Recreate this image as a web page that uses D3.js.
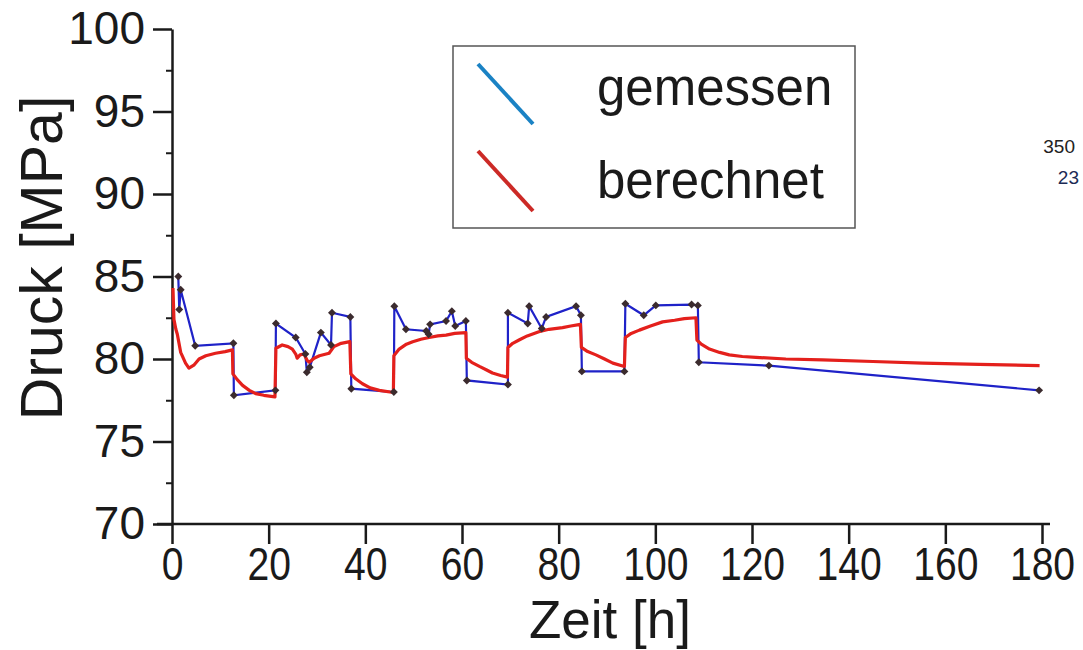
<!DOCTYPE html>
<html>
<head>
<meta charset="utf-8">
<script src="https://cdn.jsdelivr.net/npm/d3@7"></script>
<style>
  body { margin: 0; background: #fff; }
  svg { display: block; font-family: "Liberation Sans", Arial, sans-serif; }
</style>
</head>
<body>
<div id="chart"></div>
<script>
"use strict";

// gemessen (blue, with markers)
const gemessenZeit = [1.3, 1.5, 1.8, 4.8, 12.7, 12.8, 21.4, 21.5, 25.6, 27.6, 27.9, 28.5, 30.8, 32.9, 33.1,
  36.9, 37.1, 45.9, 46.0, 48.4, 52.6, 53.1, 53.4, 56.7, 57.9, 58.6, 60.8, 61.0, 69.5, 69.5, 73.6, 73.9,
  76.5, 77.4, 83.6, 84.6, 84.8, 93.6, 93.8, 97.6, 100.1, 107.5, 108.8, 109.0, 123.5, 179.4];
const gemessenDruck = [85.0, 83.0, 84.2, 80.8, 80.95, 77.8, 78.1, 82.15, 81.3, 80.3, 79.2, 79.5, 81.6, 80.85, 82.8,
  82.55, 78.2, 78.0, 83.2, 81.8, 81.7, 81.5, 82.1, 82.3, 82.9, 82.0, 82.3, 78.7, 78.45, 82.8, 82.15, 83.2,
  81.85, 82.55, 83.2, 82.65, 79.25, 79.25, 83.35, 82.65, 83.25, 83.3, 83.25, 79.8, 79.6, 78.1];

// berechnet (red)
const berechnetZeit = [0.2, 0.4, 0.8, 1.1, 1.8, 2.8, 3.5, 4.6, 5.6, 7.0, 9.0, 11.0, 12.5, 12.6, 13.5, 14.6, 16.0,
  17.3, 19.0, 21.3, 21.5, 22.8, 24.0, 24.9, 25.6, 25.9, 26.5, 27.3, 28.0, 28.4, 29.4, 30.5, 32.5, 33.5, 35.0,
  36.8, 37.0, 38.0, 39.4, 41.0, 42.9, 45.8, 45.9, 47.0, 48.5, 49.8, 51.5, 53.2, 55.0, 56.7, 58.5, 60.8, 60.9,
  62.0, 63.6, 65.0, 66.3, 68.0, 69.4, 69.5, 70.5, 71.8, 73.5, 75.9, 78.0, 80.8, 82.5, 84.5, 84.7, 86.0, 87.7,
  89.5, 91.2, 93.6, 93.8, 95.0, 96.7, 99.0, 101.5, 104.0, 106.0, 108.4, 108.6, 109.5, 111.2, 113.3, 115.3,
  118.0, 120.8, 127.0, 134.6, 145.0, 155.3, 167.0, 179.5];
const berechnetDruck = [84.3, 82.4, 81.8, 81.5, 80.4, 79.75, 79.45, 79.65, 80.0, 80.2, 80.35, 80.45, 80.55, 79.1,
  78.75, 78.4, 78.1, 77.9, 77.8, 77.7, 80.65, 80.85, 80.75, 80.6, 80.3, 80.05, 80.25, 80.3, 79.9, 79.8, 80.05,
  80.2, 80.35, 80.75, 80.95, 81.05, 79.1, 78.8, 78.5, 78.25, 78.1, 77.97, 80.2, 80.6, 80.9, 81.05, 81.2, 81.3,
  81.4, 81.45, 81.55, 81.6, 80.05, 79.8, 79.55, 79.35, 79.15, 79.0, 78.9, 80.7, 80.95, 81.15, 81.4, 81.65,
  81.8, 81.9, 82.0, 82.1, 80.7, 80.45, 80.25, 80.0, 79.75, 79.55, 81.3, 81.55, 81.75, 82.0, 82.25, 82.35,
  82.45, 82.5, 81.15, 80.9, 80.6, 80.4, 80.25, 80.15, 80.1, 80.0, 79.95, 79.85, 79.75, 79.68, 79.6];

const xTicks = [0, 20, 40, 60, 80, 100, 120, 140, 160, 180];
const yTicks = [70, 75, 80, 85, 90, 95, 100];
const yMinorTicks = [72.5, 77.5, 82.5, 87.5, 92.5, 97.5];
const legendLabels = ['gemessen', 'berechnet'];
const legendColors = ['#1a82c4', '#cc2a26'];
const sideLabels = ['350', '23'];

const width = 1083;
const height = 650;

const svg = d3.select('#chart')
  .append('svg')
  .attr('width', width)
  .attr('height', height);

const x = d3.scaleLinear().domain([0, 180]).range([172, 1042]);
const y = d3.scaleLinear().domain([70, 100]).range([524, 29]);

const axisColor = '#1a1a1a';

// y axis
const yAxis = svg.append('g')
  .attr('transform', `translate(${x(0)},0)`)
  .call(d3.axisLeft(y).tickValues(yTicks).tickSize(19).tickSizeOuter(0).tickPadding(8));
yAxis.select('.domain').attr('stroke', axisColor).attr('stroke-width', 2.5);
yAxis.selectAll('.tick line').attr('stroke', axisColor).attr('stroke-width', 2.5);
yAxis.selectAll('.tick text')
  .attr('fill', '#1a1a1a')
  .style('font-size', '46px');

const yMinor = svg.append('g')
  .attr('transform', `translate(${x(0)},0)`)
  .call(d3.axisLeft(y).tickValues(yMinorTicks).tickSize(6).tickSizeOuter(0).tickFormat(''));
yMinor.select('.domain').remove();
yMinor.selectAll('.tick line').attr('stroke', axisColor).attr('stroke-width', 2);

// x axis
const xAxis = svg.append('g')
  .attr('transform', `translate(0,${y(70)})`)
  .call(d3.axisBottom(x).tickValues(xTicks).tickSize(20).tickSizeOuter(0).tickPadding(3));
xAxis.select('.domain').remove();
xAxis.selectAll('.tick line').attr('stroke', axisColor).attr('stroke-width', 2.5);
xAxis.selectAll('.tick text')
  .attr('fill', '#1a1a1a')
  .attr('transform', 'scale(0.85,1)')
  .style('font-size', '46px');

svg.append('line')
  .attr('x1', x.range()[0] - 15)
  .attr('x2', x.range()[1] + 8)
  .attr('y1', y(70))
  .attr('y2', y(70))
  .attr('stroke', axisColor)
  .attr('stroke-width', 2.5);

// axis titles
svg.append('text')
  .attr('x', 610)
  .attr('y', 638)
  .attr('text-anchor', 'middle')
  .attr('fill', '#1a1a1a')
  .style('font-size', '53px')
  .text('Zeit [h]');

svg.append('text')
  .attr('transform', 'translate(62,258) rotate(-90)')
  .attr('text-anchor', 'middle')
  .attr('fill', '#1a1a1a')
  .style('font-size', '59px')
  .text('Druck [MPa]');

// lines
const berechnet = berechnetZeit.map((t, i) => ({ t: t, p: berechnetDruck[i] }));
const gemessen = gemessenZeit.map((t, i) => ({ t: t, p: gemessenDruck[i] }));

const line = d3.line()
  .x(d => x(d.t))
  .y(d => y(d.p));

svg.append('path')
  .datum(gemessen)
  .attr('d', line)
  .attr('fill', 'none')
  .attr('stroke', '#1f22c8')
  .attr('stroke-width', 2.2);

svg.append('path')
  .datum(berechnet)
  .attr('d', line)
  .attr('fill', 'none')
  .attr('stroke', '#e4201c')
  .attr('stroke-width', 3.2)
  .attr('stroke-linejoin', 'round');

svg.append('g')
  .selectAll('path')
  .data(gemessen)
  .enter().append('path')
    .attr('d', d3.symbol().type(d3.symbolDiamond2).size(40))
    .attr('transform', d => `translate(${x(d.t)},${y(d.p)})`)
    .attr('fill', '#3b2b2e');

// legend
const legend = svg.append('g');
legend.append('rect')
  .attr('x', 453)
  .attr('y', 46)
  .attr('width', 402)
  .attr('height', 182)
  .attr('fill', '#fff')
  .attr('stroke', '#555')
  .attr('stroke-width', 1.5);

legendLabels.forEach((label, i) => {
  const top = 64 + i * 87;
  legend.append('line')
    .attr('x1', 478)
    .attr('y1', top)
    .attr('x2', 533)
    .attr('y2', top + 60)
    .attr('stroke', legendColors[i])
    .attr('stroke-width', 4);
  legend.append('text')
    .attr('x', 597)
    .attr('y', 105 + i * 93)
    .attr('fill', '#1a1a1a')
    .style('font-size', '51px')
    .text(label);
});

// stray labels at the right edge
svg.append('text')
  .attr('x', 1075)
  .attr('y', 153)
  .attr('text-anchor', 'end')
  .attr('fill', '#222')
  .style('font-size', '19px')
  .text(sideLabels[0]);
svg.append('text')
  .attr('x', 1079)
  .attr('y', 184)
  .attr('text-anchor', 'end')
  .attr('fill', '#1c2a55')
  .style('font-size', '19px')
  .text(sideLabels[1]);
</script>
</body>
</html>
